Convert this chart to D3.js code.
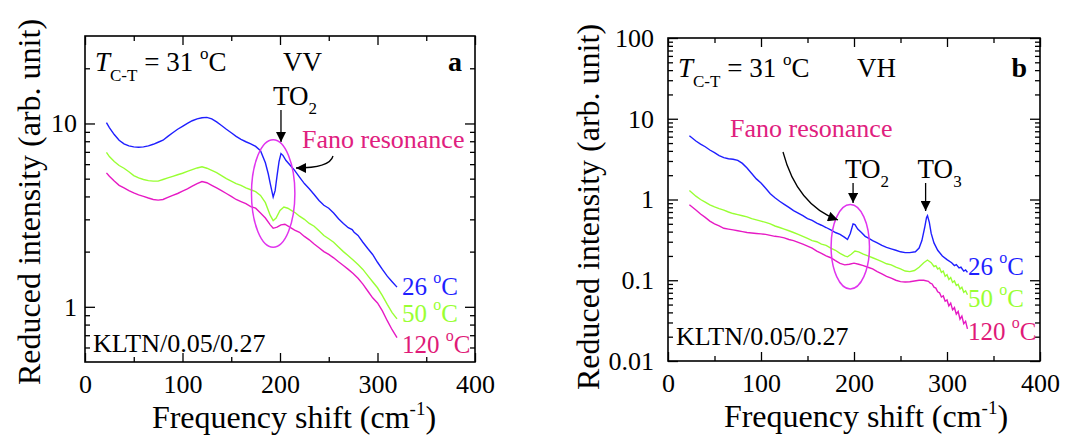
<!DOCTYPE html>
<html>
<head>
<meta charset="utf-8">
<script src="https://d3js.org/d3.v7.min.js"></script>
<style>
  body { margin: 0; background: #fff; }
</style>
</head>
<body>
<svg id="chart" width="1069" height="437"></svg>
<script>
// ---- data: [frequency shift (cm^-1), reduced intensity] ----
const vv26 = [[22,10.1],[25,9.5],[30,8.7],[35,8.1],[40,7.75],[45,7.55],[50,7.45],[55,7.42],[60,7.45],[65,7.55],[70,7.7],[75,7.9],[80,8.1],[85,8.5],[90,8.9],[95,9.3],[100,9.65],[105,10.0],[110,10.35],[115,10.6],[120,10.75],[125,10.8],[130,10.6],[135,10.2],[140,9.75],[145,9.3],[150,8.9],[155,8.5],[160,8.2],[165,7.95],[170,7.75],[175,7.5],[180,7.1],[185,6.1],[188,5.3],[190,4.7],[193,3.97],[195,4.3],[197,5.2],[199,6.2],[201,6.86],[203,6.7],[206,6.3],[210,5.95],[215,5.55],[220,5.1],[225,4.7],[230,4.4],[235,4.1],[240,3.8],[245,3.58],[250,3.45],[255,3.25],[260,3.02],[265,2.85],[270,2.7],[274,2.64],[276,2.55],[280,2.45],[285,2.25],[290,2.08],[295,1.93],[300,1.75],[305,1.6],[310,1.47],[315,1.37],[320,1.28]];
const vv50 = [[22,6.95],[25,6.6],[30,6.2],[35,5.9],[40,5.7],[45,5.45],[50,5.2],[55,5.05],[60,4.95],[65,4.88],[70,4.85],[75,4.85],[80,4.95],[85,5.05],[90,5.15],[95,5.25],[100,5.35],[105,5.48],[110,5.6],[115,5.72],[120,5.8],[125,5.7],[130,5.55],[135,5.4],[140,5.2],[145,5.0],[150,4.85],[155,4.7],[160,4.6],[165,4.45],[170,4.35],[175,4.25],[180,4.05],[185,3.7],[190,3.15],[193,2.95],[196,3.05],[200,3.35],[204,3.5],[208,3.45],[212,3.35],[216,3.25],[220,3.12],[225,3.0],[230,2.85],[235,2.75],[240,2.6],[245,2.45],[250,2.35],[255,2.25],[260,2.12],[265,2.0],[270,1.9],[275,1.8],[280,1.7],[285,1.6],[290,1.48],[295,1.37],[300,1.27],[305,1.15],[310,1.03],[315,0.93],[320,0.86]];
const vv120 = [[22,5.38],[25,5.15],[30,4.85],[35,4.6],[40,4.45],[45,4.3],[50,4.18],[55,4.08],[60,4.0],[65,3.92],[70,3.85],[75,3.82],[80,3.85],[85,3.95],[90,4.05],[95,4.15],[100,4.28],[105,4.4],[110,4.55],[115,4.7],[120,4.82],[125,4.75],[130,4.6],[135,4.45],[140,4.3],[145,4.15],[150,4.0],[155,3.85],[160,3.75],[165,3.65],[170,3.52],[175,3.45],[180,3.25],[185,3.05],[190,2.8],[193,2.68],[197,2.72],[201,2.8],[205,2.82],[210,2.72],[215,2.62],[220,2.55],[225,2.42],[230,2.32],[235,2.2],[240,2.1],[245,2.0],[250,1.93],[255,1.85],[260,1.76],[265,1.68],[270,1.6],[275,1.52],[280,1.43],[285,1.33],[290,1.22],[295,1.12],[300,1.05],[305,0.95],[310,0.84],[315,0.75],[320,0.68]];

const vh26 = [[23,6.15],[30,5.3],[35,4.85],[40,4.5],[45,4.1],[50,3.8],[55,3.5],[60,3.3],[65,3.2],[70,3.15],[75,3.05],[80,2.8],[85,2.45],[90,2.1],[95,1.8],[100,1.6],[105,1.38],[110,1.18],[115,1.05],[120,0.95],[125,0.87],[130,0.8],[135,0.73],[140,0.68],[145,0.63],[150,0.58],[155,0.55],[160,0.51],[165,0.48],[170,0.45],[175,0.42],[180,0.39],[185,0.37],[190,0.34],[193,0.32],[196,0.38],[199,0.5],[201,0.49],[204,0.43],[208,0.39],[212,0.35],[216,0.33],[220,0.31],[225,0.29],[230,0.27],[235,0.255],[240,0.245],[245,0.235],[250,0.225],[255,0.22],[260,0.22],[266,0.225],[270,0.25],[273,0.31],[276,0.45],[278,0.6],[279,0.63],[281,0.52],[283,0.38],[286,0.29],[290,0.235],[295,0.2],[300,0.18],[305,0.165],[308,0.152],[310,0.156],[313,0.142],[315,0.145],[318,0.13],[320,0.134],[322,0.125]];
const vh50 = [[23,1.29],[30,1.1],[35,1.0],[40,0.93],[45,0.86],[50,0.81],[55,0.77],[60,0.74],[65,0.7],[70,0.67],[75,0.65],[80,0.63],[85,0.61],[90,0.58],[95,0.56],[100,0.54],[105,0.52],[110,0.5],[115,0.47],[120,0.45],[125,0.43],[130,0.41],[135,0.39],[140,0.37],[145,0.35],[150,0.33],[155,0.31],[160,0.3],[165,0.28],[170,0.27],[175,0.25],[180,0.235],[185,0.215],[190,0.2],[193,0.195],[197,0.21],[201,0.23],[205,0.225],[210,0.21],[215,0.2],[220,0.19],[225,0.18],[230,0.17],[235,0.16],[240,0.155],[245,0.145],[250,0.138],[255,0.13],[260,0.128],[265,0.132],[270,0.145],[275,0.165],[279,0.178],[283,0.165],[286,0.148],[288,0.152],[290,0.138],[292,0.142],[294,0.125],[296,0.13],[298,0.112],[300,0.117],[302,0.102],[304,0.108],[306,0.094],[308,0.098],[310,0.086],[312,0.089],[314,0.078],[316,0.082],[318,0.071],[320,0.074],[322,0.066]];
const vh120 = [[23,0.86],[30,0.74],[35,0.66],[40,0.6],[45,0.54],[50,0.5],[55,0.47],[60,0.44],[65,0.43],[70,0.42],[75,0.41],[80,0.4],[85,0.39],[90,0.385],[95,0.38],[100,0.375],[105,0.37],[110,0.36],[115,0.35],[120,0.345],[125,0.335],[130,0.32],[135,0.31],[140,0.295],[145,0.28],[150,0.265],[155,0.25],[160,0.23],[165,0.215],[170,0.2],[175,0.19],[180,0.175],[185,0.162],[190,0.155],[195,0.158],[200,0.163],[205,0.158],[210,0.152],[215,0.145],[220,0.138],[225,0.128],[230,0.12],[235,0.112],[240,0.106],[245,0.1],[250,0.096],[255,0.095],[260,0.096],[265,0.098],[270,0.1],[275,0.1],[280,0.097],[282,0.092],[284,0.09],[286,0.082],[288,0.08],[290,0.072],[292,0.07],[294,0.062],[296,0.064],[298,0.055],[300,0.057],[302,0.048],[304,0.052],[306,0.043],[308,0.046],[310,0.038],[312,0.041],[314,0.033],[316,0.036],[318,0.029],[320,0.031],[322,0.025]];

const tempLabels = ["26", "50", "120"];
const seriesColors = ["#1f1fff", "#99ff33", "#e61ac4"];
const labelColors = ["#1f1fff", "#99ff33", "#e01a78"];
const xTicks = [0, 100, 200, 300, 400];
const xMinor = [50, 150, 250, 350];
const yTicksA = [1, 10];
const yMinorA = [0.6, 0.7, 0.8, 0.9, 2, 3, 4, 5, 6, 7, 8, 9, 20];
const yTicksB = [0.01, 0.1, 1, 10, 100];
const yMinorB = [0.01, 0.1, 1, 10].flatMap(d => [2,3,4,5,6,7,8,9].map(k => d * k));

const serif = '"Liberation Serif", "Times New Roman", "DejaVu Serif", serif';
const svg = d3.select("#chart").attr("font-family", serif);
const pink = "#e0207e";

const defs = svg.append("defs");
defs.append("marker")
  .attr("id", "arrow")
  .attr("viewBox", "0 0 10 10")
  .attr("refX", 10).attr("refY", 5)
  .attr("markerWidth", 13).attr("markerHeight", 10)
  .attr("markerUnits", "userSpaceOnUse")
  .attr("orient", "auto")
  .append("path").attr("d", "M0,0 L10,5 L0,10 Z").attr("fill", "#000");

function drawPanel(p) {
  const x = d3.scaleLinear().domain([0, 400]).range([p.left, p.right]);
  const y = d3.scaleLog().domain(p.yDomain).range([p.bottom, p.top]);
  const g = svg.append("g");

  const fmt = d => String(d);
  // inward ticks on all four sides
  const axes = [
    [d3.axisBottom(x).tickValues(xTicks).tickSize(-9).tickFormat(fmt).tickPadding(13), `translate(0,${p.bottom})`],
    [d3.axisBottom(x).tickValues(xMinor).tickSize(-5).tickFormat(""), `translate(0,${p.bottom})`],
    [d3.axisTop(x).tickValues(xTicks).tickSize(-9).tickFormat(""), `translate(0,${p.top})`],
    [d3.axisTop(x).tickValues(xMinor).tickSize(-5).tickFormat(""), `translate(0,${p.top})`],
    [d3.axisLeft(y).tickValues(p.yTicks).tickSize(-10).tickFormat(fmt).tickPadding(p.yPad), `translate(${p.left},0)`],
    [d3.axisLeft(y).tickValues(p.yMinor).tickSize(-5).tickFormat(""), `translate(${p.left},0)`],
    [d3.axisRight(y).tickValues(p.yTicks).tickSize(-10).tickFormat(""), `translate(${p.right},0)`],
    [d3.axisRight(y).tickValues(p.yMinor).tickSize(-5).tickFormat(""), `translate(${p.right},0)`]
  ];
  axes.forEach(([ax, tr]) => {
    const a = g.append("g").attr("transform", tr).call(ax).attr("font-family", serif);
    a.select(".domain").remove();
    a.selectAll("line").attr("stroke", "#000").attr("stroke-width", 1.3);
    a.selectAll("text").attr("fill", "#000").style("font-size", "26px");
  });

  g.append("rect")
    .attr("x", p.left).attr("y", p.top)
    .attr("width", p.right - p.left).attr("height", p.bottom - p.top)
    .attr("fill", "none").attr("stroke", "#000").attr("stroke-width", 1.6);

  const line = d3.line().x(d => x(d[0])).y(d => y(d[1]));
  p.series.forEach((s, i) => {
    g.append("path").datum(s)
      .attr("d", line)
      .attr("fill", "none")
      .attr("stroke", seriesColors[i])
      .attr("stroke-width", 1.4);
  });

  // axis titles
  const xt = g.append("text")
    .attr("x", p.xTitleX).attr("y", p.xTitleY)
    .attr("text-anchor", "middle").style("font-size", "32px");
  xt.append("tspan").text("Frequency shift (cm");
  xt.append("tspan").attr("dy", -13).style("font-size", "19px").text("-1");
  xt.append("tspan").attr("dy", 13).text(")");

  g.append("text")
    .attr("transform", `translate(${p.yTitleX},${p.yTitleY}) rotate(-90)`)
    .attr("text-anchor", "middle").style("font-size", "32px")
    .text("Reduced intensity (arb. unit)");

  // header: T_C-T = 31 oC, polarisation, panel letter
  const h = g.append("text").attr("x", p.left + 10).attr("y", p.headY).style("font-size", "27px");
  h.append("tspan").style("font-style", "italic").text("T");
  h.append("tspan").attr("dy", 10).style("font-size", "17px").text("C-T");
  h.append("tspan").attr("dy", -10).text(" = 31 ");
  h.append("tspan").attr("dy", -12).style("font-size", "17px").text("o");
  h.append("tspan").attr("dy", 12).text("C");

  g.append("text").attr("x", p.polX).attr("y", p.headY).style("font-size", "27px").text(p.pol);
  g.append("text").attr("x", p.right - 13).attr("y", p.headY)
    .attr("text-anchor", "end").style("font-size", "28px").style("font-weight", "bold").text(p.letter);

  g.append("text").attr("x", p.left + 8).attr("y", p.kltnY).style("font-size", "26px").text("KLTN/0.05/0.27");

  // temperature labels at the curve ends
  tempLabels.forEach((t, i) => {
    const lt = g.append("text").attr("x", p.labX).attr("y", p.labY[i])
      .attr("fill", labelColors[i]).style("font-size", "25px");
    lt.append("tspan").text(t + " ");
    lt.append("tspan").attr("dy", -12).style("font-size", "16px").text("o");
    lt.append("tspan").attr("dy", 12).text("C");
  });

  // TO mode labels with arrows
  p.modes.forEach(m => {
    const mt = g.append("text").attr("x", x(m.x) - 8).attr("y", m.textY)
      .style("font-size", "27px");
    mt.append("tspan").text("TO");
    mt.append("tspan").attr("dy", 9).style("font-size", "17px").text(m.sub);
    g.append("line")
      .attr("x1", x(m.x)).attr("x2", x(m.x))
      .attr("y1", m.textY + 5).attr("y2", m.tipY)
      .attr("stroke", "#000").attr("stroke-width", 1.3)
      .attr("marker-end", "url(#arrow)");
  });

  // Fano resonance ellipse, label and curved arrow
  g.append("ellipse")
    .attr("cx", x(p.fano.cx)).attr("cy", y(p.fano.cy))
    .attr("rx", p.fano.rx).attr("ry", p.fano.ry)
    .attr("fill", "none").attr("stroke", "#e035ee").attr("stroke-width", 1.5);
  g.append("text").attr("x", p.fano.tx).attr("y", p.fano.ty)
    .attr("fill", pink).style("font-size", "26px").text("Fano resonance");
  g.append("path").attr("d", p.fano.arrow)
    .attr("fill", "none").attr("stroke", "#000").attr("stroke-width", 1.3)
    .attr("marker-end", "url(#arrow)");
}

drawPanel({
  left: 85, right: 475, top: 36, bottom: 362,
  yDomain: [0.5, 30], yTicks: yTicksA, yMinor: yMinorA, yPad: 8,
  series: [vv26, vv50, vv120],
  xTitleX: 294, xTitleY: 428, yTitleX: 40, yTitleY: 202,
  headY: 71, pol: "VV", polX: 283, letter: "a", kltnY: 352,
  labX: 402, labY: [295, 322, 353],
  modes: [{x: 201, sub: "2", textY: 105, tipY: 142}],
  fano: {cx: 193, cy: 4.15, rx: 21.7, ry: 53.7, tx: 302, ty: 148,
         arrow: "M333,156 Q330,168 296,168"}
});

drawPanel({
  left: 668, right: 1040, top: 38, bottom: 361,
  yDomain: [0.01, 100], yTicks: yTicksB, yMinor: yMinorB, yPad: 14,
  series: [vh26, vh50, vh120],
  xTitleX: 866, xTitleY: 427, yTitleX: 599, yTitleY: 207,
  headY: 77, pol: "VH", polX: 857, letter: "b", kltnY: 345,
  labX: 968, labY: [275, 307, 340],
  modes: [{x: 199, sub: "2", textY: 178, tipY: 203}, {x: 277, sub: "3", textY: 178, tipY: 211}],
  fano: {cx: 196, cy: 0.26, rx: 19.2, ry: 42.2, tx: 730, ty: 137,
         arrow: "M783,152 Q797,205 838,220"}
});
</script>
</body>
</html>
